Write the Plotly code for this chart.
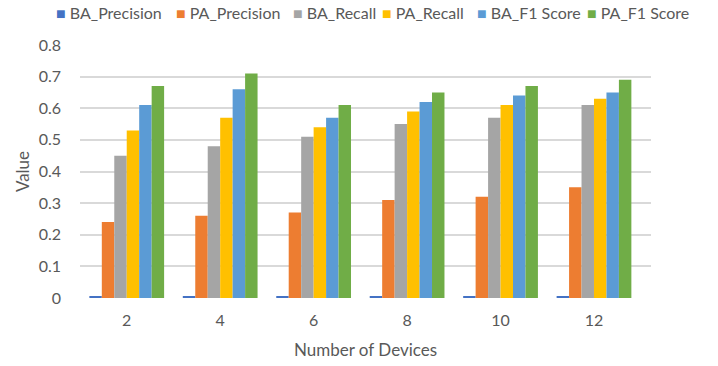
import plotly.graph_objects as go

devices = ["2", "4", "6", "8", "10", "12"]
ba_precision = [0.004, 0.004, 0.004, 0.004, 0.004, 0.004]
pa_precision = [0.24, 0.26, 0.27, 0.31, 0.32, 0.35]
ba_recall = [0.45, 0.48, 0.51, 0.55, 0.57, 0.61]
pa_recall = [0.53, 0.57, 0.54, 0.59, 0.61, 0.63]
ba_f1 = [0.61, 0.66, 0.57, 0.62, 0.64, 0.65]
pa_f1 = [0.67, 0.71, 0.61, 0.65, 0.67, 0.69]

series_names = ["BA_Precision", "PA_Precision", "BA_Recall", "PA_Recall",
                "BA_F1 Score", "PA_F1 Score"]
series_values = [ba_precision, pa_precision, ba_recall, pa_recall, ba_f1, pa_f1]
series_colors = ["#4472C4", "#ED7D31", "#A5A5A5", "#FFC000", "#5B9BD5", "#70AD47"]

# legend entry left edges, in pixels of the figure
legend_px = [54, 174, 291, 380, 475, 585]

W, H = 718, 366
M = dict(l=80, r=67, t=45, b=68)
plot_w = W - M["l"] - M["r"]
plot_h = H - M["t"] - M["b"]

fig = go.Figure()
annotations = []
for name, vals, color, px in zip(series_names, series_values, series_colors, legend_px):
    fig.add_trace(go.Bar(x=devices, y=vals, name=name, marker_color=color,
                         marker_line_width=0, showlegend=False))
    annotations.append(dict(
        text=f"<span style='color:{color}'>■</span> {name}",
        xref="paper", yref="paper",
        x=(px - M["l"]) / plot_w, y=(H - M["b"] - 12) / plot_h,
        xanchor="left", yanchor="middle", showarrow=False,
        font=dict(size=16, color="#595959")))

font_family = "Lato, 'Open Sans', sans-serif"
fig.update_layout(
    width=W, height=H, showlegend=False,
    margin=dict(**M, pad=0, autoexpand=False),
    paper_bgcolor="white", plot_bgcolor="white",
    barmode="group", bargap=0.2, bargroupgap=0,
    font=dict(family=font_family, color="#595959", size=16),
    annotations=annotations,
    xaxis=dict(type="category", range=[-0.5, 5.61], showgrid=False, showline=False,
               zeroline=False, ticks="", ticklabelstandoff=11, automargin=False,
               tickfont=dict(size=16, color="#595959"),
               title=dict(text="Number of Devices", font=dict(size=17, color="#595959"),
                          standoff=16)),
    yaxis=dict(range=[0, 0.8], dtick=0.1, showgrid=True, gridcolor="#D9D9D9",
               gridwidth=1.5, zeroline=False, showline=False, ticks="",
               ticklabelstandoff=18, automargin=False,
               tickfont=dict(size=16, color="#595959"),
               title=dict(text="Value", font=dict(size=17, color="#595959"),
                          standoff=4)),
)

fig.write_html("out.html", config={"displayModeBar": False},
               post_script="document.body.style.margin='0';")
